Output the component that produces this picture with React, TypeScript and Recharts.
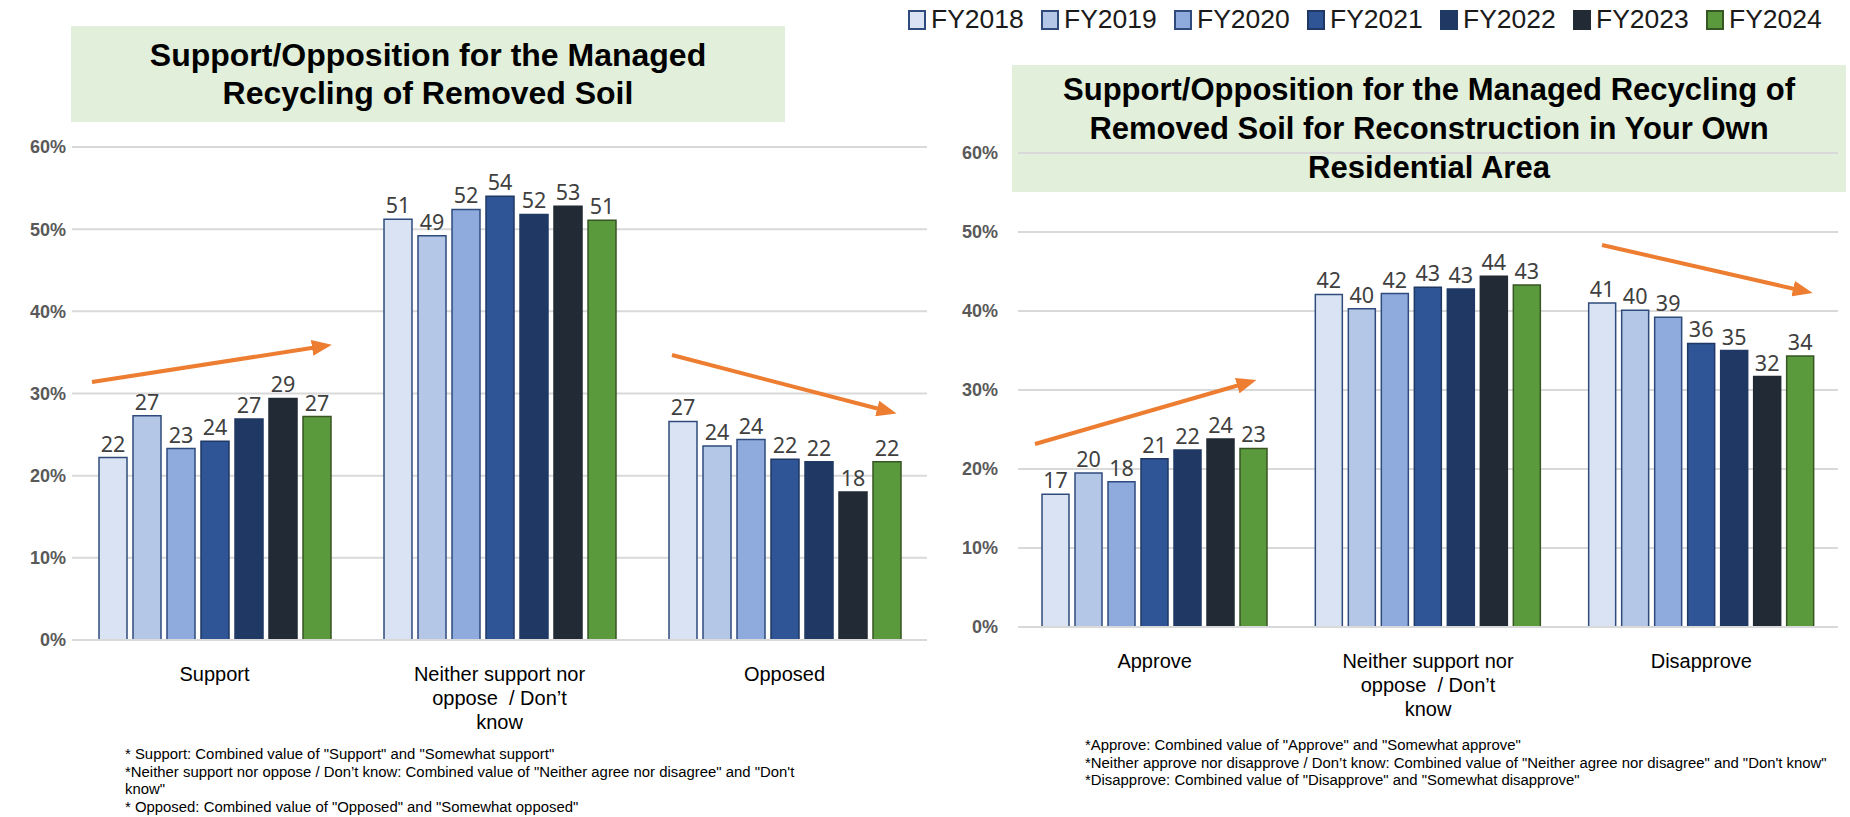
import React from 'react';
import { BarChart, Bar, XAxis, YAxis, CartesianGrid, LabelList } from 'recharts';

const years = ['FY2018', 'FY2019', 'FY2020', 'FY2021', 'FY2022', 'FY2023', 'FY2024'];
const fills = ['#DAE3F3', '#B4C7E7', '#8FAADC', '#2F5597', '#203864', '#222A35', '#5B9A3C'];
const strokes = ['#2F4B7C', '#2F4B7C', '#2F4B7C', '#1F3864', '#1F3864', '#222A35', '#375623'];

const leftCategories = ['Support', 'Neither support nor\noppose  / Don\u2019t\nknow', 'Opposed'];
const rightCategories = ['Approve', 'Neither support nor\noppose  / Don\u2019t\nknow', 'Disapprove'];

// left chart values (%), one array per fiscal year
const fy2018L = [22.2, 51.2, 26.6];
const fy2019L = [27.3, 49.2, 23.6];
const fy2020L = [23.3, 52.4, 24.4];
const fy2021L = [24.2, 54.0, 22.0];
const fy2022L = [26.9, 51.8, 21.7];
const fy2023L = [29.4, 52.8, 18.0];
const fy2024L = [27.2, 51.1, 21.7];

// right chart values (%)
const fy2018R = [16.8, 42.1, 41.0];
const fy2019R = [19.5, 40.3, 40.1];
const fy2020R = [18.4, 42.2, 39.2];
const fy2021R = [21.3, 43.0, 35.9];
const fy2022R = [22.4, 42.8, 35.0];
const fy2023R = [23.8, 44.4, 31.7];
const fy2024R = [22.6, 43.3, 34.3];

const yTicks = [0, 10, 20, 30, 40, 50, 60];

const leftSeries = [fy2018L, fy2019L, fy2020L, fy2021L, fy2022L, fy2023L, fy2024L];
const rightSeries = [fy2018R, fy2019R, fy2020R, fy2021R, fy2022R, fy2023R, fy2024R];

const buildRows = (cats: string[], series: number[][]) =>
  cats.map((c, i) => {
    const row: any = { name: c };
    years.forEach((y, j) => (row[y] = series[j][i]));
    return row;
  });

const leftData = buildRows(leftCategories, leftSeries);
const rightData = buildRows(rightCategories, rightSeries);

const sans = '"Liberation Sans", Arial, sans-serif';

const CategoryTick = ({ x, y, payload }: any) => {
  const lines = String(payload.value).split('\n');
  return (
    <text x={x} y={y} textAnchor="middle" fontFamily={sans} fontSize={20} fill="#000" style={{ whiteSpace: 'pre' }}>
      {lines.map((l, i) => (
        <tspan key={i} x={x} dy={i === 0 ? 33 : 24}>{l}</tspan>
      ))}
    </text>
  );
};

const renderBars = (barSize: number) =>
  years.map((y, i) => (
    <Bar key={y} dataKey={y} fill={fills[i]} stroke={strokes[i]} strokeWidth={1.5} barSize={barSize} isAnimationActive={false}>
      <LabelList
        dataKey={y}
        position="top"
        offset={6}
        formatter={(v: any) => Math.round(Number(v))}
        style={{ fontFamily: '"Noto Sans", sans-serif', fontSize: 21.5, fill: '#404040' }}
      />
    </Bar>
  ));

const Arrow = ({ x1, y1, x2, y2 }: { x1: number; y1: number; x2: number; y2: number }) => (
  <line x1={x1} y1={y1} x2={x2} y2={y2} stroke="#ED7D31" strokeWidth={4} markerEnd="url(#arrowHead)" />
);

const titleStyle: React.CSSProperties = {
  position: 'absolute',
  background: '#E2EFDA',
  display: 'flex',
  alignItems: 'center',
  justifyContent: 'center',
  textAlign: 'center',
  fontFamily: sans,
  fontWeight: 'bold',
  color: '#000',
};

const noteStyle: React.CSSProperties = {
  position: 'absolute',
  fontFamily: sans,
  fontSize: 14.9,
  lineHeight: '17.5px',
  color: '#000',
  whiteSpace: 'pre',
};

const yTickStyle = { fontFamily: sans, fontSize: 18, fontWeight: 'bold', fill: '#595959' };

const App: React.FC = () => {
  return (
    <div style={{ position: 'absolute', left: 0, top: 0, width: 1850, height: 817, background: '#fff', overflow: 'hidden' }}>
      {/* legend shared by both charts */}
      <div style={{ position: 'absolute', left: 908, top: 4, display: 'flex', alignItems: 'center', fontFamily: sans, fontSize: 26.5, color: '#1a1a1a' }}>
        {years.map((y, i) => (
          <div key={y} style={{ display: 'flex', alignItems: 'center', width: 133 }}>
            <div style={{ width: 14, height: 16, background: fills[i], border: `2px solid ${strokes[i]}`, marginRight: 5 }} />
            <span>{y}</span>
          </div>
        ))}
      </div>

      <div style={{ ...titleStyle, left: 71, top: 26, width: 714, height: 96, lineHeight: '38px', fontSize: 32 }}>
        Support/Opposition for the Managed<br />Recycling of Removed Soil
      </div>
      <div style={{ ...titleStyle, left: 1012, top: 65, width: 834, height: 127, lineHeight: '39px', fontSize: 31 }}>
        Support/Opposition for the Managed Recycling of<br />Removed Soil for Reconstruction in Your Own<br />Residential Area
      </div>

      <div style={{ position: 'absolute', left: 0, top: 0 }}>
        <BarChart width={940} height={817} data={leftData} margin={{ top: 147, right: 13, left: 0, bottom: 147 }} barGap={6}>
          <CartesianGrid vertical={false} stroke="#D9D9D9" strokeWidth={2} />
          <XAxis dataKey="name" height={30} tick={<CategoryTick />} tickLine={false} axisLine={{ stroke: '#D9D9D9', strokeWidth: 2 }} interval={0} />
          <YAxis
            width={72}
            domain={[0, 60]}
            ticks={yTicks}
            tickFormatter={(v) => `${v}%`}
            axisLine={false}
            tickLine={false}
            tickMargin={0}
            tick={yTickStyle}
          />
          {renderBars(28)}
        </BarChart>
      </div>

      <div style={{ position: 'absolute', left: 940, top: 0 }}>
        <BarChart width={910} height={817} data={rightData} margin={{ top: 153, right: 12, left: 0, bottom: 160 }} barGap={6}>
          <CartesianGrid vertical={false} stroke="#D9D9D9" strokeWidth={2} />
          <XAxis dataKey="name" height={30} tick={<CategoryTick />} tickLine={false} axisLine={{ stroke: '#D9D9D9', strokeWidth: 2 }} interval={0} />
          <YAxis
            width={78}
            domain={[0, 60]}
            ticks={yTicks}
            tickFormatter={(v) => `${v}%`}
            axisLine={false}
            tickLine={false}
            tickMargin={14}
            tick={yTickStyle}
          />
          {renderBars(27)}
        </BarChart>
      </div>

      {/* trend arrows */}
      <svg width={1850} height={817} style={{ position: 'absolute', left: 0, top: 0, pointerEvents: 'none' }}>
        <defs>
          <marker id="arrowHead" markerWidth="5" markerHeight="4" refX="1.5" refY="2" orient="auto" markerUnits="strokeWidth">
            <path d="M0,0 L5,2 L0,4 Z" fill="#ED7D31" />
          </marker>
        </defs>
        <Arrow x1={92} y1={382} x2={318} y2={347} />
        <Arrow x1={672} y1={355} x2={883} y2={410} />
        <Arrow x1={1035} y1={444} x2={1243} y2={384} />
        <Arrow x1={1602} y1={245} x2={1799} y2={290} />
      </svg>

      <div style={{ ...noteStyle, left: 125, top: 746 }}>
        {'* Support: Combined value of "Support" and "Somewhat support"\n*Neither support nor oppose / Don\u2019t know: Combined value of "Neither agree nor disagree" and "Don\'t\nknow"\n* Opposed: Combined value of "Opposed" and "Somewhat opposed"'}
      </div>
      <div style={{ ...noteStyle, left: 1085, top: 737 }}>
        {'*Approve: Combined value of "Approve" and "Somewhat approve"\n*Neither approve nor disapprove / Don\u2019t know: Combined value of "Neither agree nor disagree" and "Don\'t know"\n*Disapprove: Combined value of "Disapprove" and "Somewhat disapprove"'}
      </div>
    </div>
  );
};

export default App;
